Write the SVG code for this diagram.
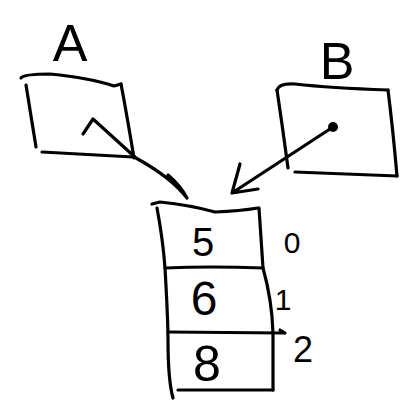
<svg xmlns="http://www.w3.org/2000/svg" width="409" height="412" viewBox="0 0 409 412">
  <style>
    .ink { fill: none; stroke: #000; stroke-width: 3.2; stroke-linecap: round; stroke-linejoin: round; }
    .lbl { font-family: "Liberation Sans", "DejaVu Sans", sans-serif; fill: #000; text-anchor: middle; }
  </style>
  <rect width="409" height="412" fill="#fff"/>

  <!-- pointer variable A -->
  <g id="nodeA">
    <text class="lbl" x="70" y="61" font-size="52">A</text>
    <path class="ink" d="M21 78 Q24 74 50 74 Q90 78 114 86 L121 84"/>
    <path class="ink" d="M121 84 Q126 110 134 158"/>
    <path class="ink" d="M26 85 L36 147"/>
    <path class="ink" d="M42 152 L133 157"/>
  </g>

  <!-- pointer variable B -->
  <g id="nodeB">
    <text class="lbl" x="337" y="79" font-size="52">B</text>
    <path class="ink" d="M277 90 Q279 83 295 84 Q330 88 388 90"/>
    <path class="ink" d="M277 90 Q283 130 288 168"/>
    <path class="ink" d="M388 90 Q393 130 397 176"/>
    <path class="ink" d="M295 172 L397 176"/>
  </g>

  <!-- array with three cells and indices -->
  <g id="array">
    <path class="ink" d="M152 204 L160 202 Q190 205 215 212 Q240 211 258 208"/>
    <path class="ink" d="M157 208 Q163 240 165 268 Q168 320 168 340 Q168 380 173 398"/>
    <path class="ink" d="M259 208 L263 268 Q272 300 273 333 L273 390"/>
    <path class="ink" d="M165 268 Q210 266 263 268"/>
    <path class="ink" d="M168 332 L284 333 M280 330 L285 333"/>
    <path class="ink" d="M178 390 L273 390"/>
    <text class="lbl" x="203" y="256" font-size="40">5</text>
    <text class="lbl" x="204" y="315" font-size="48">6</text>
    <text class="lbl" x="207" y="381" font-size="50">8</text>
    <text class="lbl" x="292" y="253" font-size="30">0</text>
    <text class="lbl" x="283" y="310" font-size="30">1</text>
    <text class="lbl" x="303" y="362" font-size="36">2</text>
  </g>

  <!-- references from A and B into the array -->
  <g id="connectors">
    <path class="ink" d="M83 134 L93 119 L136 158 Q172 178 187 198 M168 175 Q180 185 187 198"/>
    <circle cx="333" cy="127" r="5" fill="#000"/>
    <path class="ink" d="M333 127 L232 193 M240 164 L232 193 L258 189"/>
  </g>
</svg>
